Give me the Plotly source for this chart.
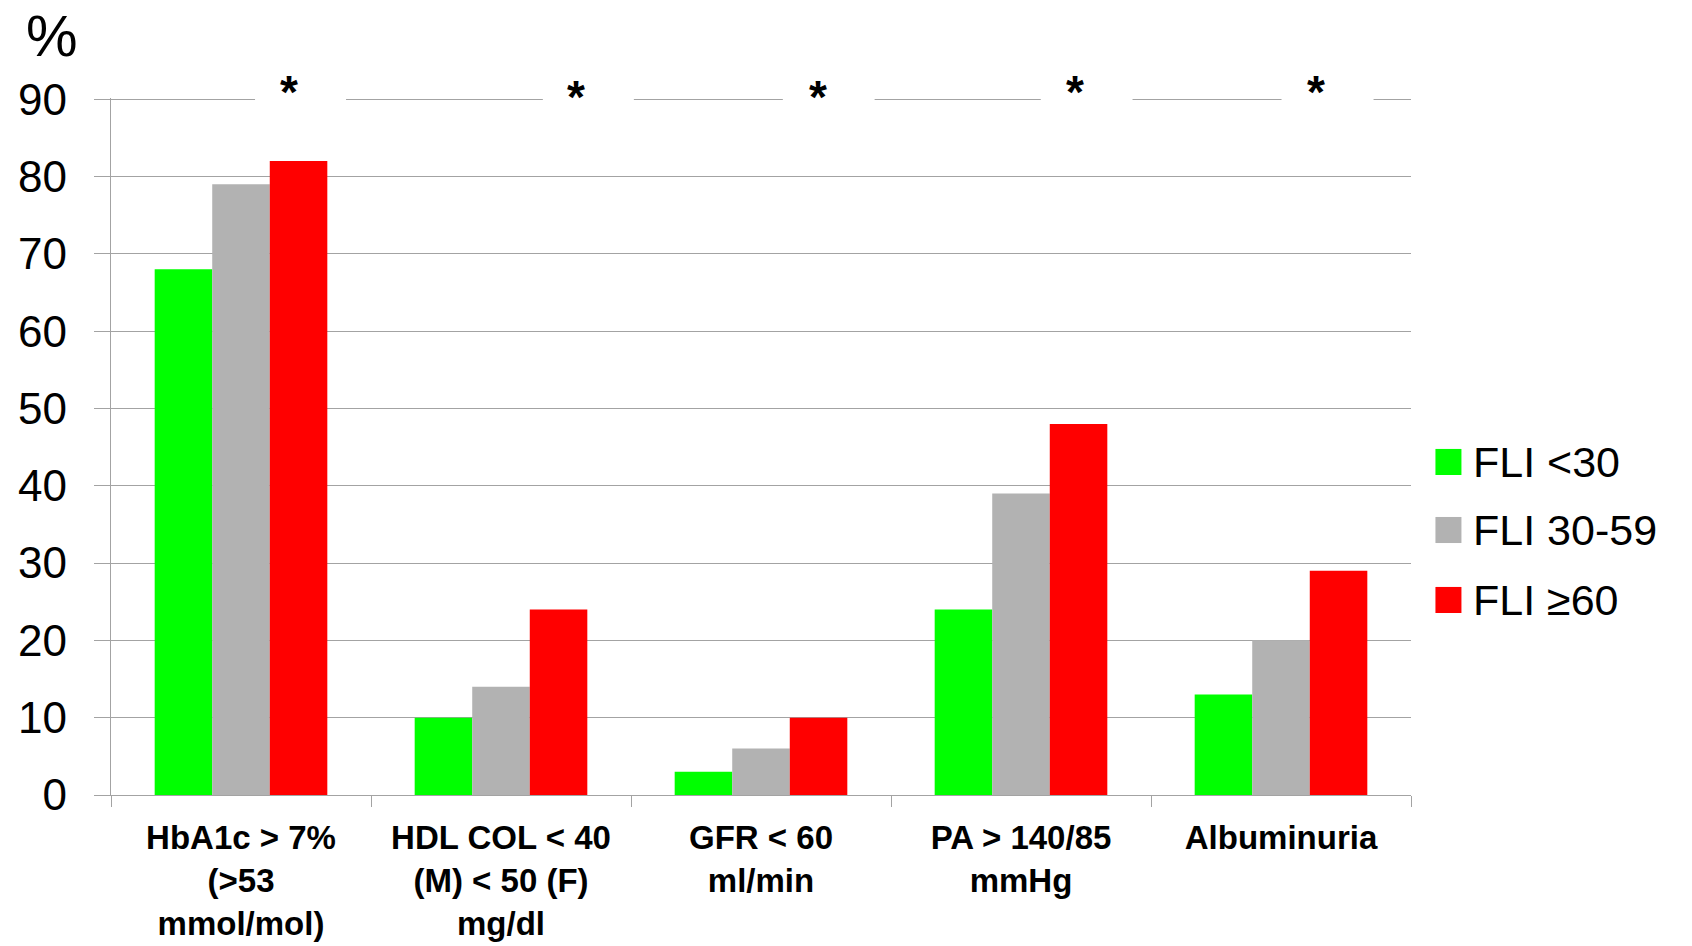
import plotly.graph_objects as go

# ---- data ----
categories = [
    "HbA1c &gt; 7%<br>(&gt;53<br>mmol/mol)",
    "HDL COL &lt; 40<br>(M) &lt; 50 (F)<br>mg/dl",
    "GFR &lt; 60<br>ml/min",
    "PA &gt; 140/85<br>mmHg",
    "Albuminuria",
]
series_names = ["FLI &lt;30", "FLI 30-59", "FLI ≥60"]
fli_lt30 = [68, 10, 3, 24, 13]
fli_30_59 = [79, 14, 6, 39, 20]
fli_ge60 = [82, 24, 10, 48, 29]
y_ticks = [0, 10, 20, 30, 40, 50, 60, 70, 80, 90]
significance = ["*", "*", "*", "*", "*"]

# ---- styles / layout constants ----
colors = ["#00ff00", "#b2b2b2", "#ff0000"]
grid_col = "#a3a3a3"
font_family = "Liberation Sans, Arial, sans-serif"
# asterisk offsets (category units, relative to each category centre)
star_dx = [0.184, 0.288, 0.218, 0.206, 0.133]
star_y = [1.0201, 1.0129, 1.0129, 1.0201, 1.0201]
gap_x = [(0.054, 0.404), (0.161, 0.511), (0.084, 0.437), (0.076, 0.429), (0.002, 0.356)]

series = [fli_lt30, fli_30_59, fli_ge60]

fig = go.Figure()
for name, vals, col in zip(series_names, series, colors):
    fig.add_trace(go.Bar(
        x=categories, y=vals, name=name,
        marker=dict(color=col, line=dict(width=0)),
        showlegend=False,
    ))

shapes = []
annotations = []
# breaks in top gridline and asterisks
for i, s in enumerate(significance):
    g0, g1 = gap_x[i]
    shapes.append(dict(type="rect", xref="x", yref="paper",
                       x0=i + g0, x1=i + g1, y0=0.99, y1=1.01,
                       fillcolor="white", line=dict(width=0), layer="above"))
    annotations.append(dict(text=s, x=i + star_dx[i], y=star_y[i], xref="x", yref="paper",
                            showarrow=False, xanchor="center", yanchor="middle",
                            yshift=-8,
                            font=dict(family=font_family, size=46, color="black", weight="bold")))

# "%" axis caption
annotations.append(dict(text="%", x=-0.0454, y=1.089, xref="paper", yref="paper",
                        showarrow=False, xanchor="center", yanchor="middle",
                        font=dict(family=font_family, size=58, color="black")))

# manual legend
leg_y = [0.4778, 0.3802, 0.2798]
for name, col, yy in zip(series_names, colors, leg_y):
    shapes.append(dict(type="rect", xref="paper", yref="paper",
                       x0=1.0188, x1=1.0388, y0=yy - 0.0187, y1=yy + 0.0187,
                       fillcolor=col, line=dict(width=0)))
    annotations.append(dict(text=name, x=1.046, y=yy, xref="paper", yref="paper",
                            showarrow=False, xanchor="left", yanchor="middle",
                            font=dict(family=font_family, size=43, color="black")))

fig.update_layout(
    width=1692, height=946,
    margin=dict(l=111, r=281, t=98, b=151, pad=0, autoexpand=False),
    paper_bgcolor="white", plot_bgcolor="white",
    barmode="group", bargap=0.336, bargroupgap=0,
    shapes=shapes, annotations=annotations,
    font=dict(family=font_family, color="black"),
)
fig.update_xaxes(
    type="category", automargin=False,
    showline=True, linecolor=grid_col, linewidth=1.3,
    ticks="outside", tickson="boundaries", ticklen=11, tickcolor=grid_col, tickwidth=1.3,
    showgrid=False,
    tickfont=dict(family=font_family, size=33, color="black", weight="bold"),
    ticklabelstandoff=13,
)
fig.update_yaxes(
    range=[0, 90.15], tickvals=y_ticks, automargin=False,
    showgrid=True, gridcolor=grid_col, gridwidth=1.3,
    showline=True, linecolor=grid_col, linewidth=1.3,
    ticks="outside", ticklen=16, tickcolor=grid_col, tickwidth=1.3,
    zeroline=False,
    tickfont=dict(family=font_family, size=44, color="black"),
    ticklabelstandoff=18,
)

fig.write_html("out.html")
